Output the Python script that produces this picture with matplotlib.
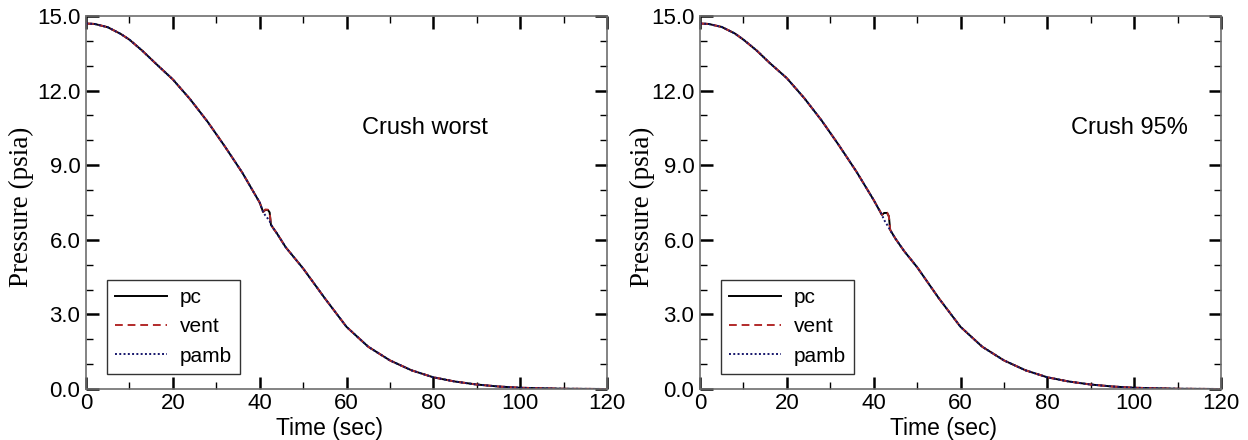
import matplotlib

matplotlib.use("Agg")
import matplotlib.pyplot as plt
from matplotlib.ticker import FormatStrFormatter, MultipleLocator

# time axis (sec) and pressures (psia)
t_worst = [0, 2, 5, 8, 10, 13, 16, 20, 24, 28, 32, 36, 40, 40.8, 41.3, 41.9, 42.3, 42.6,
           43, 44, 46, 50, 55, 60, 65, 70, 75, 80, 85, 90, 95, 100, 105, 110, 120]
pc_worst = [14.70, 14.68, 14.55, 14.28, 14.05, 13.60, 13.10, 12.45, 11.65, 10.75, 9.75,
            8.70, 7.50, 7.12, 7.20, 7.20, 7.10, 6.60, 6.50, 6.25, 5.70, 4.85, 3.65, 2.50,
            1.70, 1.15, 0.75, 0.47, 0.30, 0.18, 0.10, 0.05, 0.03, 0.01, 0.0]
vent_worst = [14.70, 14.68, 14.55, 14.28, 14.05, 13.60, 13.10, 12.45, 11.65, 10.75, 9.75,
              8.70, 7.50, 7.13, 7.22, 7.21, 7.08, 6.60, 6.50, 6.25, 5.70, 4.85, 3.65, 2.50,
              1.70, 1.15, 0.75, 0.47, 0.30, 0.18, 0.10, 0.05, 0.03, 0.01, 0.0]
pamb_worst = [14.70, 14.68, 14.55, 14.28, 14.05, 13.60, 13.10, 12.45, 11.65, 10.75, 9.75,
              8.70, 7.50, 7.12, 6.98, 6.85, 6.75, 6.62, 6.50, 6.25, 5.70, 4.85, 3.65, 2.50,
              1.70, 1.15, 0.75, 0.47, 0.30, 0.18, 0.10, 0.05, 0.03, 0.01, 0.0]

t_95 = [0, 2, 5, 8, 10, 13, 16, 20, 24, 28, 32, 36, 40, 41.9, 42.4, 43.1, 43.5, 43.8,
        45, 47, 50, 55, 60, 65, 70, 75, 80, 85, 90, 95, 100, 105, 110, 120]
pc_95 = [14.70, 14.68, 14.56, 14.30, 14.05, 13.62, 13.12, 12.50, 11.70, 10.80, 9.80,
         8.75, 7.60, 7.00, 7.08, 7.08, 6.95, 6.40, 6.05, 5.55, 4.90, 3.65, 2.50, 1.70,
         1.15, 0.75, 0.47, 0.30, 0.18, 0.10, 0.05, 0.03, 0.01, 0.0]
vent_95 = [14.70, 14.68, 14.56, 14.30, 14.05, 13.62, 13.12, 12.50, 11.70, 10.80, 9.80,
           8.75, 7.60, 7.01, 7.10, 7.09, 6.93, 6.40, 6.05, 5.55, 4.90, 3.65, 2.50, 1.70,
           1.15, 0.75, 0.47, 0.30, 0.18, 0.10, 0.05, 0.03, 0.01, 0.0]
pamb_95 = [14.70, 14.68, 14.56, 14.30, 14.05, 13.62, 13.12, 12.50, 11.70, 10.80, 9.80,
           8.75, 7.60, 7.00, 6.80, 6.60, 6.48, 6.38, 6.05, 5.55, 4.90, 3.65, 2.50, 1.70,
           1.15, 0.75, 0.47, 0.30, 0.18, 0.10, 0.05, 0.03, 0.01, 0.0]

panels = [
    ("Crush worst", t_worst, pc_worst, vent_worst, pamb_worst, (78, 10.5), -0.123),
    ("Crush 95%", t_95, pc_95, vent_95, pamb_95, (99, 10.5), -0.111),
]

SANS = "Liberation Sans"
SERIF = "Liberation Serif"

fig = plt.figure(figsize=(12.48, 4.4), dpi=100)
positions = [[0.0689, 0.1159, 0.4175, 0.8477], [0.5609, 0.1159, 0.4175, 0.8477]]

for pos, (label, t, pc, vent, pamb, txt, ylab_x) in zip(positions, panels):
    ax = fig.add_axes(pos)
    ax.plot(t, pc, color="black", lw=1.4, label="pc")
    ax.plot(t, vent, color="#b22a2a", lw=1.4, ls=(0, (4, 2.5)), label="vent")
    ax.plot(t, pamb, color="#15156b", lw=1.4, ls=(0, (1, 1.2)), label="pamb")

    ax.set_xlim(0, 120)
    ax.set_ylim(0, 15)
    ax.xaxis.set_major_locator(MultipleLocator(20))
    ax.xaxis.set_minor_locator(MultipleLocator(10))
    ax.yaxis.set_major_locator(MultipleLocator(3))
    ax.yaxis.set_minor_locator(MultipleLocator(1))
    ax.yaxis.set_major_formatter(FormatStrFormatter("%.1f"))
    ax.tick_params(which="both", direction="in", top=True, right=True,
                   labelsize=16, colors="black")
    ax.tick_params(axis="x", pad=3)
    ax.tick_params(axis="y", pad=4)
    ax.tick_params(which="major", length=9, width=1.8)
    ax.tick_params(which="minor", length=5, width=1.0)
    for lab in ax.get_xticklabels() + ax.get_yticklabels():
        lab.set_fontfamily(SANS)
    for sp in ax.spines.values():
        sp.set_color("#6e6e6e")
        sp.set_linewidth(1.2)

    ax.set_xlabel("Time (sec)", fontsize=16.5, family=SANS, va="center")
    ax.xaxis.set_label_coords(0.468, -0.105)
    ax.set_ylabel("Pressure (psia)", fontsize=19.5, family=SERIF, va="center")
    ax.yaxis.set_label_coords(ylab_x, 0.488)
    ax.text(txt[0], txt[1], label, fontsize=17, family=SANS, ha="center", va="center")

    leg = ax.legend(loc="lower left", bbox_to_anchor=(0.040, 0.040), borderaxespad=0,
                    prop={"family": SANS, "size": 15}, fancybox=False,
                    edgecolor="black", handlelength=2.5, borderpad=0.4,
                    labelspacing=0.5, handletextpad=0.6)
    leg.get_frame().set_linewidth(1.0)

fig.savefig("out.png", dpi=100)
